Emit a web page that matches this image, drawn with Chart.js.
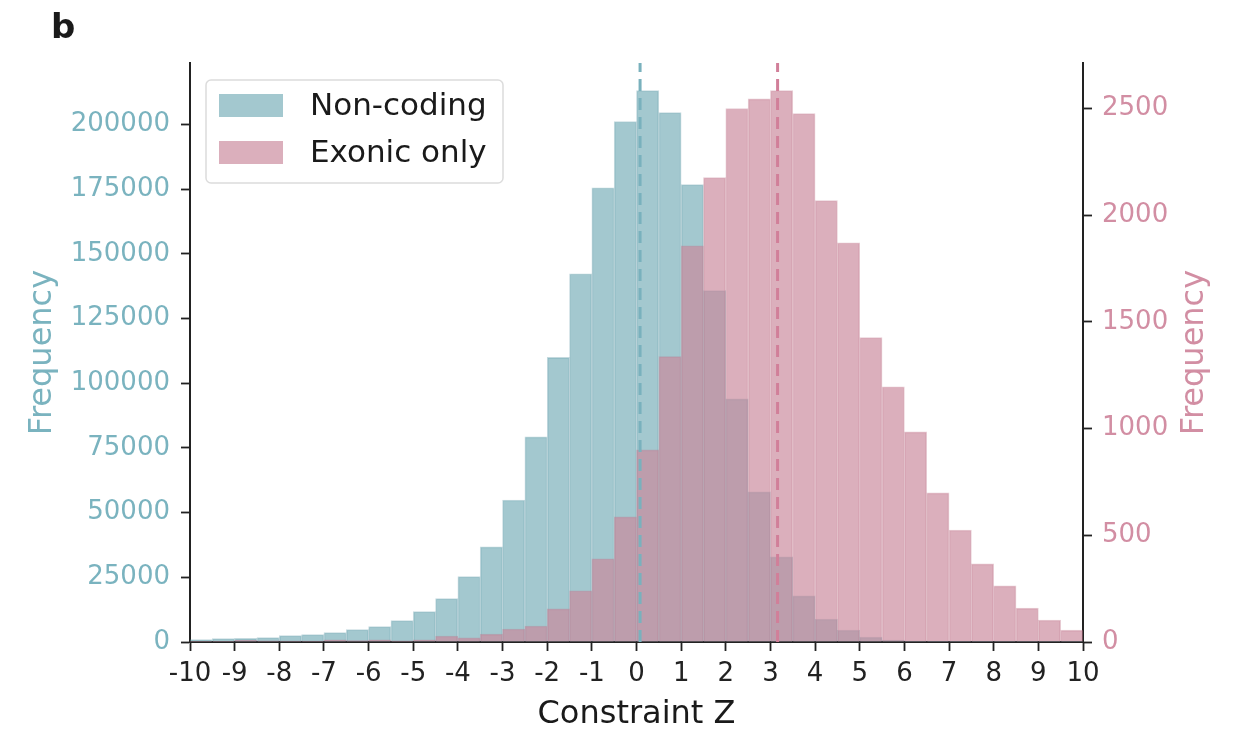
<!DOCTYPE html>
<html>
<head>
<meta charset="utf-8">
<script src="https://cdn.jsdelivr.net/npm/chart.js@4.4.1/dist/chart.umd.min.js"></script>
<style>
  html, body { margin: 0; padding: 0; background: #ffffff; }
  #wrap { width: 1234px; height: 735px; position: relative; }
</style>
</head>
<body>
<div id="wrap"><canvas id="c" width="1234" height="735"></canvas></div>
<script>
// ---- data ----
const binCenters = [-9.75,-9.25,-8.75,-8.25,-7.75,-7.25,-6.75,-6.25,-5.75,-5.25,
                    -4.75,-4.25,-3.75,-3.25,-2.75,-2.25,-1.75,-1.25,-0.75,-0.25,
                     0.25, 0.75, 1.25, 1.75, 2.25, 2.75, 3.25, 3.75, 4.25, 4.75,
                     5.25, 5.75, 6.25, 6.75, 7.25, 7.75, 8.25, 8.75, 9.25, 9.75];
const nonCoding = [900,1300,1400,1700,2450,2850,3600,4770,5930,8250,
                   11730,16760,25280,36750,54900,79300,110000,142350,175600,201200,
                   213150,204650,176800,135800,94000,58000,32900,17800,8900,4640,
                   1930,770,400,150,80,40,20,10,5,3];
const exonicOnly = [3,4,8,6,5,5,10,7,10,6,
                    10,28,19,37,61,75,155,240,390,586,
                    900,1337,1857,2176,2500,2545,2584,2476,2068,1871,
                    1426,1196,985,699,525,366,263,159,103,56];
const meanNonCoding = 0.08;
const meanExonic = 3.16;
const xTicks = [-10,-9,-8,-7,-6,-5,-4,-3,-2,-1,0,1,2,3,4,5,6,7,8,9,10];
const leftTicks = [0,25000,50000,75000,100000,125000,150000,175000,200000];
const rightTicks = [0,500,1000,1500,2000,2500];
const seriesNames = ['Non-coding', 'Exonic only'];

const leftMax = Math.max(...nonCoding) * 1.05;
const rightMax = Math.max(...exonicOnly) * 1.05;

const tealFill = 'rgba(102,163,175,0.6)';
const pinkFill = 'rgba(201,136,155,0.67)';
const tealEdge = 'rgba(90,150,162,0.35)';
const pinkEdge = 'rgba(185,105,130,0.35)';
const tealText = '#7ab3bf';
const pinkText = '#d28ea3';
const FONT = "'DejaVu Sans', sans-serif";

const extrasPlugin = {
  id: 'extras',
  afterDraw(chart) {
    const ctx = chart.ctx;
    const ca = chart.chartArea;
    ctx.save();
    // panel letter
    ctx.fillStyle = '#1a1a1a';
    ctx.font = "bold 34px " + FONT;
    ctx.textAlign = 'left';
    ctx.textBaseline = 'alphabetic';
    ctx.fillText('b', 51, 38);
    // right axis title (reads bottom-to-top)
    ctx.save();
    ctx.translate(1195, (ca.top + ca.bottom) / 2);
    ctx.rotate(-Math.PI / 2);
    ctx.fillStyle = pinkText;
    ctx.font = "32px " + FONT;
    ctx.textAlign = 'center';
    ctx.textBaseline = 'middle';
    ctx.fillText('Frequency', 0, 0);
    ctx.restore();
    // legend
    const lx = 206, ly = 80, lw = 297, lh = 103, r = 5;
    ctx.beginPath();
    ctx.moveTo(lx + r, ly);
    ctx.arcTo(lx + lw, ly, lx + lw, ly + lh, r);
    ctx.arcTo(lx + lw, ly + lh, lx, ly + lh, r);
    ctx.arcTo(lx, ly + lh, lx, ly, r);
    ctx.arcTo(lx, ly, lx + lw, ly, r);
    ctx.closePath();
    ctx.fillStyle = 'rgba(255,255,255,0.8)';
    ctx.fill();
    ctx.strokeStyle = '#dcdcdc';
    ctx.lineWidth = 1.5;
    ctx.stroke();
    const fills = [tealFill, pinkFill];
    const ys = [94, 141];
    for (let i = 0; i < 2; i++) {
      ctx.fillStyle = fills[i];
      ctx.fillRect(219, ys[i], 64, 23);
      ctx.fillStyle = '#1a1a1a';
      ctx.font = "31px " + FONT;
      ctx.textAlign = 'left';
      ctx.textBaseline = 'middle';
      ctx.fillText(seriesNames[i], 310, ys[i] + 13);
    }
    ctx.restore();
  }
};

const ctx = document.getElementById('c').getContext('2d');
new Chart(ctx, {
  type: 'bar',
  data: {
    datasets: [
      {
        label: seriesNames[0],
        data: binCenters.map((x, i) => ({ x: x, y: nonCoding[i] })),
        backgroundColor: tealFill,
        borderColor: tealEdge,
        borderWidth: 1,
        borderSkipped: 'bottom',
        yAxisID: 'y',
        order: 3,
        barPercentage: 1,
        categoryPercentage: 1,
        grouped: false
      },
      {
        label: seriesNames[1],
        data: binCenters.map((x, i) => ({ x: x, y: exonicOnly[i] })),
        backgroundColor: pinkFill,
        borderColor: pinkEdge,
        borderWidth: 1,
        borderSkipped: 'bottom',
        yAxisID: 'y2',
        order: 2,
        barPercentage: 1,
        categoryPercentage: 1,
        grouped: false
      },
      {
        type: 'line',
        label: 'mean non-coding',
        data: [{ x: meanNonCoding, y: 0 }, { x: meanNonCoding, y: leftMax }],
        borderColor: '#79b1bd',
        borderWidth: 3,
        borderDash: [12, 7],
        pointRadius: 0,
        yAxisID: 'y',
        order: 1
      },
      {
        type: 'line',
        label: 'mean exonic',
        data: [{ x: meanExonic, y: 0 }, { x: meanExonic, y: rightMax }],
        borderColor: '#d17f99',
        borderWidth: 3,
        borderDash: [12, 7],
        pointRadius: 0,
        yAxisID: 'y2',
        order: 0
      }
    ]
  },
  options: {
    responsive: false,
    animation: false,
    devicePixelRatio: 1,
    layout: { padding: { top: 63, left: 0, right: 0, bottom: 0 } },
    plugins: {
      legend: { display: false },
      tooltip: { enabled: false },
      title: { display: false }
    },
    scales: {
      x: {
        type: 'linear',
        min: -10, max: 10,
        offset: false,
        afterFit(s) { s.height = 93; },
        afterBuildTicks(s) { s.ticks = xTicks.map(v => ({ value: v })); },
        grid: { display: true, drawOnChartArea: false, drawTicks: true, tickLength: 9, tickWidth: 1.8, tickColor: '#222', offset: false },
        border: { display: true, color: '#222', width: 2 },
        ticks: { color: '#222', font: { family: FONT, size: 26 }, padding: 8, maxRotation: 0, autoSkip: false,
                 callback: v => String(v) },
        title: { display: true, text: 'Constraint Z', color: '#1a1a1a', font: { family: FONT, size: 32 }, padding: { top: 0, bottom: 1 } }
      },
      y: {
        type: 'linear',
        position: 'left',
        min: 0, max: leftMax,
        afterFit(s) { s.width = 190; },
        afterBuildTicks(s) { s.ticks = leftTicks.map(v => ({ value: v })); },
        grid: { display: true, drawOnChartArea: false, drawTicks: true, tickLength: 9, tickWidth: 1.8, tickColor: '#222' },
        border: { display: true, color: '#222', width: 2 },
        ticks: { color: tealText, font: { family: FONT, size: 26 }, padding: 11, callback: v => String(v) },
        title: { display: true, text: 'Frequency', color: tealText, font: { family: FONT, size: 32 }, padding: { top: 23, bottom: 0 } }
      },
      y2: {
        type: 'linear',
        position: 'right',
        min: 0, max: rightMax,
        afterFit(s) { s.width = 151; },
        afterBuildTicks(s) { s.ticks = rightTicks.map(v => ({ value: v })); },
        grid: { display: true, drawOnChartArea: false, drawTicks: true, tickLength: 9, tickWidth: 1.8, tickColor: '#222' },
        border: { display: true, color: '#222', width: 2 },
        ticks: { color: pinkText, font: { family: FONT, size: 26 }, padding: 10, callback: v => String(v) }
      }
    }
  },
  plugins: [extrasPlugin]
});
</script>
</body>
</html>
